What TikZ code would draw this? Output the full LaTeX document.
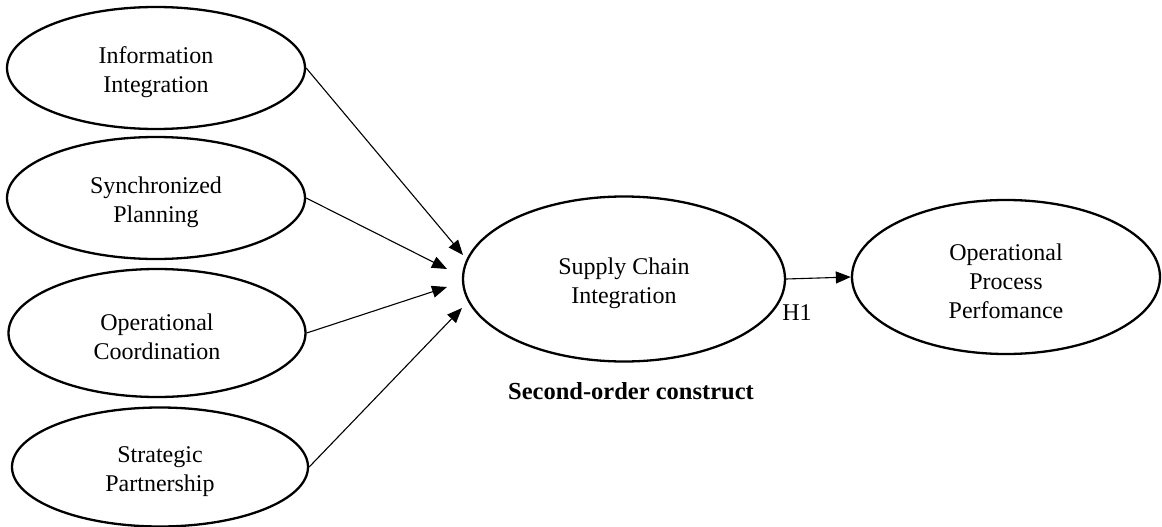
\documentclass[tikz,border=0pt]{standalone}
\usepackage{fontspec}
\setmainfont{Liberation Serif}
\usetikzlibrary{arrows.meta,shapes.geometric}
% extra room above the first text line, so the text sits a little low in its ellipse
\newcommand{\topgap}{\rule{0pt}{25pt}}
\begin{document}
\begin{tikzpicture}[x=1pt,y=-1pt,
  construct/.style={draw, line width=2.3pt, ellipse, inner sep=0pt, align=center,
    font=\fontsize{24}{29}\selectfont},
  link/.style={line width=1.1pt, -{Triangle[length=15pt,width=12pt]}},
  caption/.style={font=\fontsize{24}{29}\selectfont}]
\useasboundingbox (0,0) rectangle (1162,527);

% first-order dimensions
\node[construct, minimum width=298pt, minimum height=122pt] (info) at (156,68) {\topgap Information\\Integration};
\node[construct, minimum width=298pt, minimum height=122pt] (sync) at (156,198) {\topgap Synchronized\\Planning};
\node[construct, minimum width=297pt, minimum height=128pt] (coord) at (157,333) {\topgap Operational\\Coordination};
\node[construct, minimum width=296pt, minimum height=119pt] (partner) at (160,467) {\topgap Strategic\\Partnership};

% second-order construct and outcome
\node[construct, minimum width=322pt, minimum height=165pt] (sci) at (624,279) {\topgap Supply Chain\\Integration};
\node[construct, minimum width=308pt, minimum height=154pt] (opp) at (1006,277) {\topgap Operational\\Process\\Perfomance};

% arrow tips in front of the second-order construct
\coordinate (tInfo) at (463,255);
\coordinate (tSync) at (447,269);
\coordinate (tCoord) at (447,287);
\coordinate (tPartner) at (462,308);

\draw[link] (info.east) -- (tInfo);
\draw[link] (sync.east) -- (tSync);
\draw[link] (coord.east) -- (tCoord);
\draw[link] (partner.east) -- (tPartner);
\draw[link] (sci.east) -- (opp.west);

\node[caption] (h1) at (797,313) {H1};
\node[caption, font=\fontsize{24.5}{29}\selectfont\bfseries] (second) at (631,391) {Second-order construct};
\end{tikzpicture}
\end{document}
